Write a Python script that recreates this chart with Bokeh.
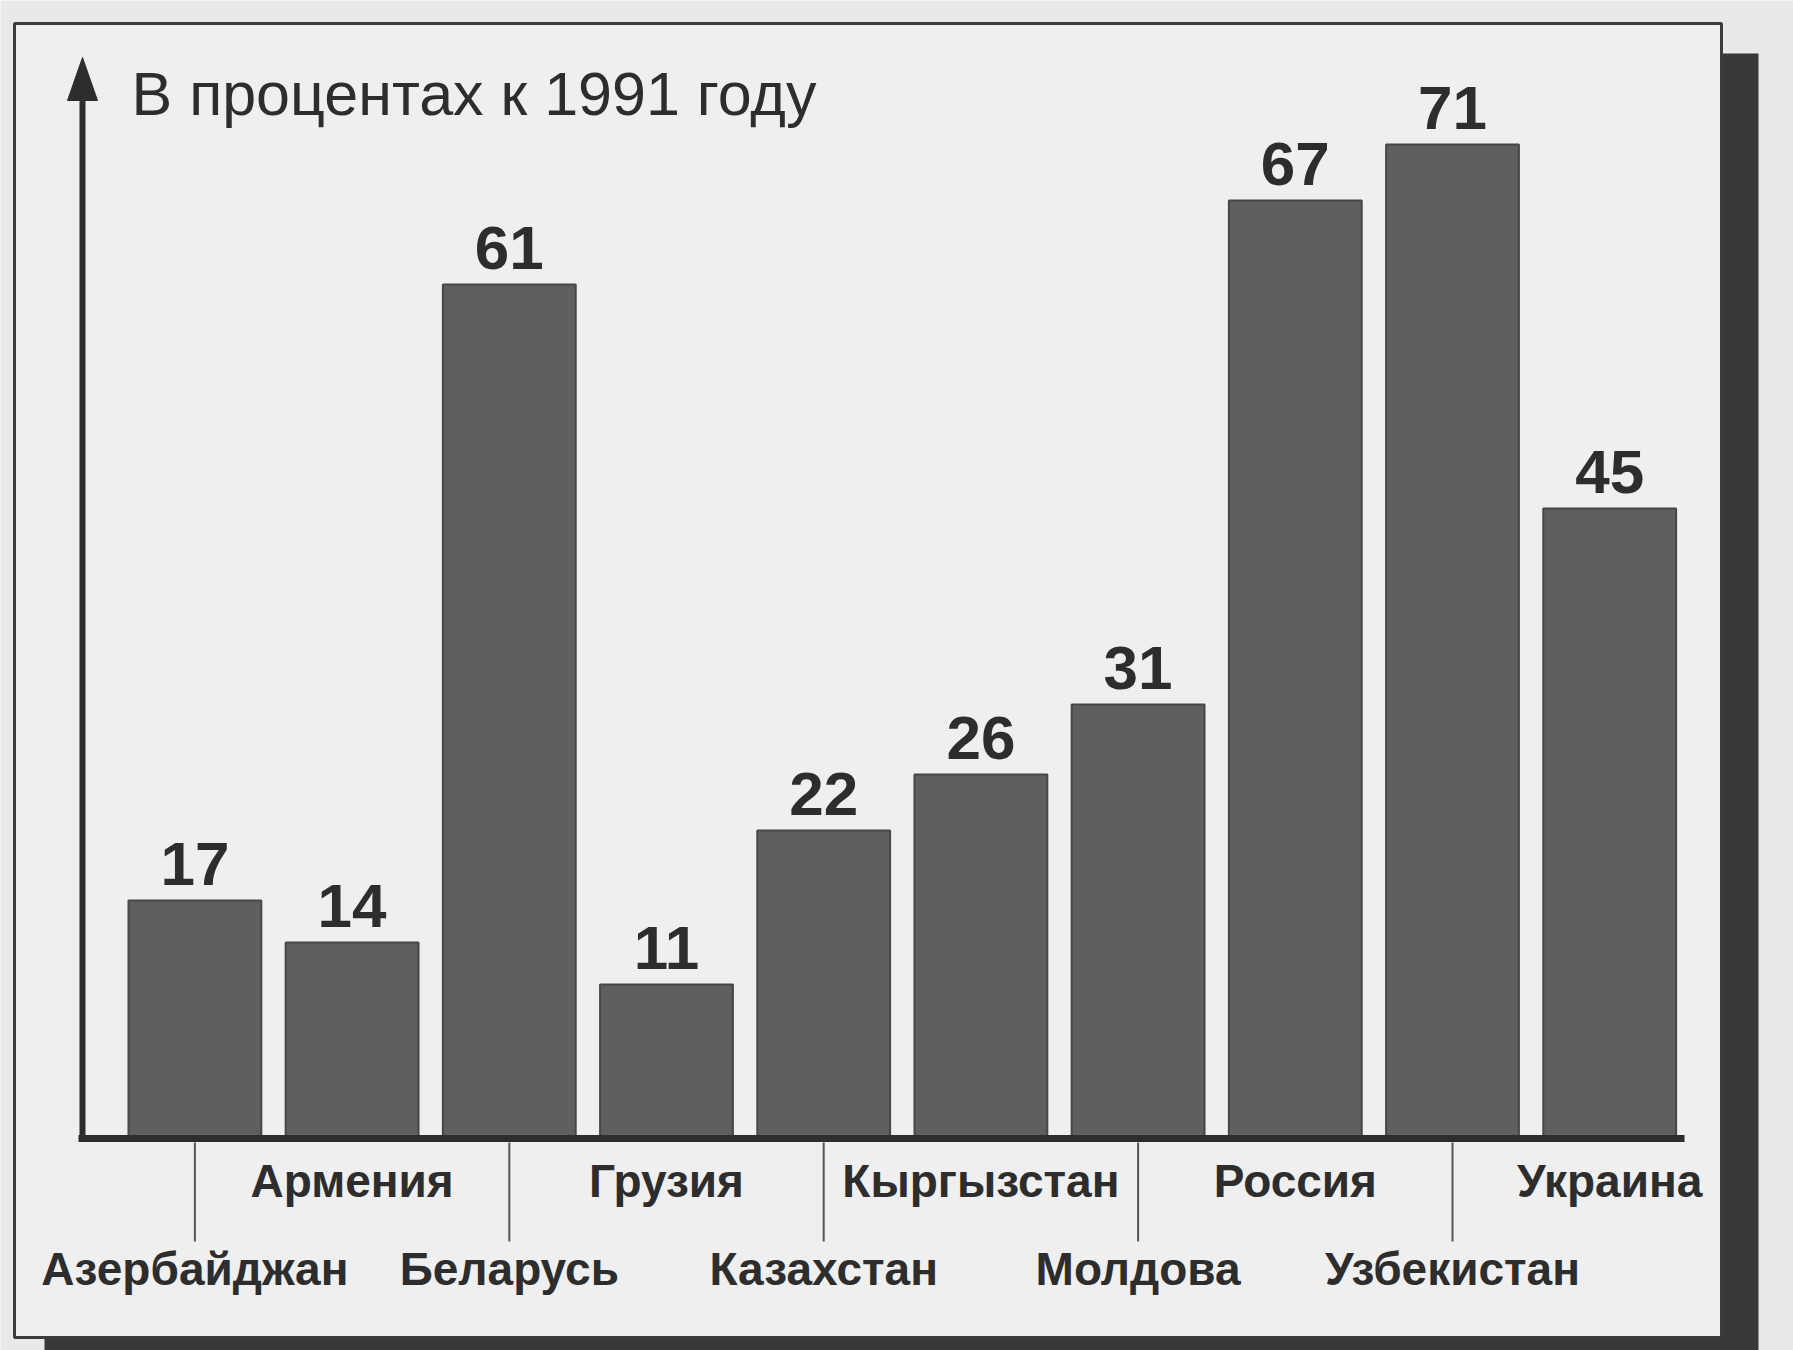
from bokeh.plotting import figure
from bokeh.models import ColumnDataSource, Range1d
from bokeh.core.properties import value
from bokeh.embed import file_html
from bokeh.resources import INLINE

# ---- data ----
categories = ["Азербайджан", "Армения", "Беларусь", "Грузия", "Казахстан",
              "Кыргызстан", "Молдова", "Россия", "Узбекистан", "Украина"]
values = [17, 14, 61, 11, 22, 26, 31, 67, 71, 45]
title_text = "В процентах к 1991 году"

# ---- layout (pixel geometry of the canvas) ----
W, H = 1793, 1350
X0, XS = 194.4, 157.2      # pixel of x=0 and pixels per category step
Y0, YS = 1138.0, 14.0      # pixel of y=0 and pixels per percent

def px2x(px):
    return (px - X0) / XS

def py2y(py):
    return (Y0 - py) / YS

PAGE = "#e9e9e9"
PANEL = "#efefef"
INK = "#2d2d2d"
BAR = "#5f5f5f"

p = figure(width=W, height=H, output_backend="svg", toolbar_location=None,
           x_range=Range1d(px2x(0), px2x(W)), y_range=Range1d(py2y(H), py2y(0)),
           x_axis_location=None, y_axis_location=None, min_border=0)
p.grid.visible = False
p.outline_line_color = None
p.background_fill_color = PAGE
p.border_fill_color = PAGE

# shadow and box
p.quad(left=[px2x(44)], right=[px2x(1758)], top=[py2y(53)], bottom=[py2y(1400)],
       fill_color="#383838", line_color=None)
p.quad(left=[px2x(14)], right=[px2x(1721)], top=[py2y(23)], bottom=[py2y(1337)],
       fill_color=PANEL, line_color="#3c3c3c", line_width=3)

# bars
xs = list(range(len(categories)))
src = ColumnDataSource(dict(
    x=xs, top=values, lab=[str(v) for v in values], cat=categories,
    yoff=[130 if i % 2 == 0 else 42 for i in xs],
))
p.vbar(x="x", top="top", bottom=0, width=0.845, source=src,
       fill_color=BAR, line_color="#474747", line_width=2)

# value labels
p.text(x="x", y="top", text="lab", source=src, text_align="center",
       text_baseline="alphabetic", y_offset=-37, text_color=INK,
       text_font=value("Liberation Sans"), text_font_style="bold",
       text_font_size="62px")

# x axis line
p.segment(x0=[px2x(78)], x1=[px2x(1684)], y0=[0], y1=[0],
          line_color=INK, line_width=7)

# y axis with arrow
ax = px2x(82)
p.segment(x0=[ax], x1=[ax], y0=[py2y(1141)], y1=[py2y(92)],
          line_color=INK, line_width=6)
hw = 15 / XS
p.patch(x=[ax - hw, ax, ax + hw], y=[py2y(100), py2y(57), py2y(100)],
        fill_color=INK, line_color=INK, line_width=1)

# separators under the lower-row labels
sep_x = [i for i in xs if i % 2 == 0]
p.segment(x0=sep_x, x1=sep_x, y0=[py2y(1142)] * len(sep_x),
          y1=[py2y(1241)] * len(sep_x), line_color="#555555", line_width=2)

# category labels (staggered in two rows)
p.text(x="x", y=0, text="cat", source=src, text_align="center",
       text_baseline="alphabetic", y_offset="yoff", text_color=INK,
       text_font=value("Liberation Sans"), text_font_style="bold",
       text_font_size="46px")

# title
p.text(x=[px2x(131)], y=[py2y(93)], text=[title_text], text_align="left",
       text_baseline="alphabetic", text_color=INK,
       text_font=value("Liberation Sans"), text_font_size="61px")

open("out.html", "w").write(file_html(p, INLINE))
